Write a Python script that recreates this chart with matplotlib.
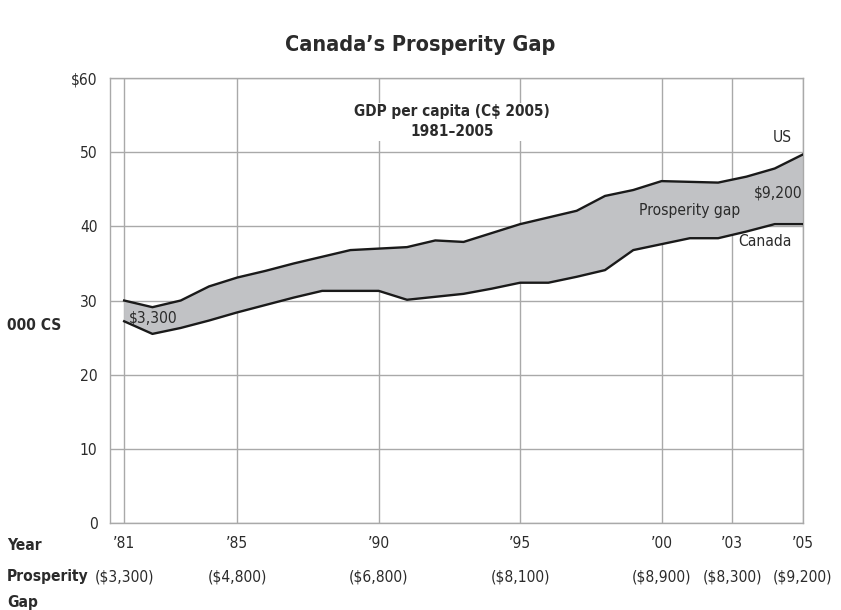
import matplotlib
matplotlib.use('Agg')
import matplotlib.pyplot as plt
from matplotlib import font_manager
import matplotlib.transforms as mtransforms

# pick a narrow font if there is one
names = {f.name for f in font_manager.fontManager.ttflist}
if 'Liberation Sans Narrow' in names:
    plt.rcParams['font.family'] = ['Liberation Sans Narrow', 'DejaVu Sans']
else:
    plt.rcParams['font.family'] = ['DejaVu Sans']
    plt.rcParams['font.stretch'] = 'condensed'

years = list(range(1981, 2006))
us = [30.0, 29.1, 30.0, 31.9, 33.1, 34.0, 35.0, 35.9, 36.8, 37.0, 37.2, 38.1, 37.9,
      39.1, 40.3, 41.2, 42.1, 44.1, 44.9, 46.1, 46.0, 45.9, 46.7, 47.8, 49.7]
canada = [27.2, 25.5, 26.3, 27.3, 28.4, 29.4, 30.4, 31.3, 31.3, 31.3, 30.1, 30.5, 30.9,
          31.6, 32.4, 32.4, 33.2, 34.1, 36.8, 37.6, 38.4, 38.4, 39.3, 40.3, 40.3]

tick_pos = [1981, 1985, 1990, 1995, 2000, 2002.5, 2005]
tick_labels = ['\u201981', '\u201985', '\u201990', '\u201995', '\u201900', '\u201903', '\u201905']
gap_labels = ['($3,300)', '($4,800)', '($6,800)', '($8,100)', '($8,900)', '($8,300)', '($9,200)']

txt = '#2b2b2b'
grid_c = '#a9a9a9'
fs = 11.2

fig = plt.figure(figsize=(8.41, 6.10), dpi=100)
ax = fig.add_axes([0.1308, 0.1426, 0.9548 - 0.1308, 0.8721 - 0.1426])

ax.fill_between(years, us, canada, facecolor='#c1c2c5', zorder=2)
ax.plot(years, us, c='#1a1a1a', lw=1.7, zorder=3)
ax.plot(years, canada, c='#1a1a1a', lw=1.7, zorder=3)

ax.set_xlim(1980.5, 2005)
ax.set_ylim(0, 60)
ax.set_yticks([0, 10, 20, 30, 40, 50, 60])
ax.set_yticklabels(['0', '10', '20', '30', '40', '50', '$60'])
ax.set_xticks(tick_pos)
ax.set_xticklabels(tick_labels)
ax.tick_params(axis='both', length=0, labelsize=fs, labelcolor=txt)
ax.tick_params(axis='x', pad=9)
ax.tick_params(axis='y', pad=9)
ax.grid(True, color=grid_c, lw=1, zorder=0)
ax.set_axisbelow(True)
for s in ax.spines.values():
    s.set_color(grid_c)
    s.set_linewidth(1)

# prosperity gap row under the years
trans = mtransforms.blended_transform_factory(ax.transData, fig.transFigure)
for p, g in zip(tick_pos, gap_labels):
    ax.text(p, 1 - 577 / 610, g, transform=trans, ha='center', va='center',
            fontsize=fs, color=txt, clip_on=False)

fig.text(7 / 841, 1 - 545 / 610, 'Year', fontsize=fs, fontweight='bold', color=txt, va='center')
fig.text(7 / 841, 1 - 577 / 610, 'Prosperity', fontsize=fs, fontweight='bold', color=txt, va='center')
fig.text(7 / 841, 1 - 602 / 610, 'Gap', fontsize=fs, fontweight='bold', color=txt, va='center')
fig.text(7 / 841, 1 - 325 / 610, '000 CS', fontsize=fs, fontweight='bold', color=txt, va='center')

fig.text(420 / 841, 1 - 45 / 610, 'Canada\u2019s Prosperity Gap', fontsize=15.5, fontweight='bold',
         color=txt, ha='center', va='center')

ax.text(1992.6, 54.1, 'GDP per capita (C$ 2005)\n1981\u20132005', ha='center', va='center',
        fontsize=11, fontweight='bold', color=txt, linespacing=1.4, zorder=4,
        bbox=dict(facecolor='white', edgecolor='none', pad=1))

ax.text(2004.6, 52.0, 'US', ha='right', va='center', fontsize=fs, color=txt)
ax.text(2004.98, 44.5, '$9,200', ha='right', va='center', fontsize=fs, color=txt, zorder=4)
ax.text(2001.0, 42.2, 'Prosperity gap', ha='center', va='center', fontsize=fs, color=txt, zorder=4)
ax.text(2004.6, 37.9, 'Canada', ha='right', va='center', fontsize=fs, color=txt)
ax.text(1981.15, 27.7, '$3,300', ha='left', va='center', fontsize=fs, color=txt, zorder=4)

fig.savefig('out.png', dpi=100)
